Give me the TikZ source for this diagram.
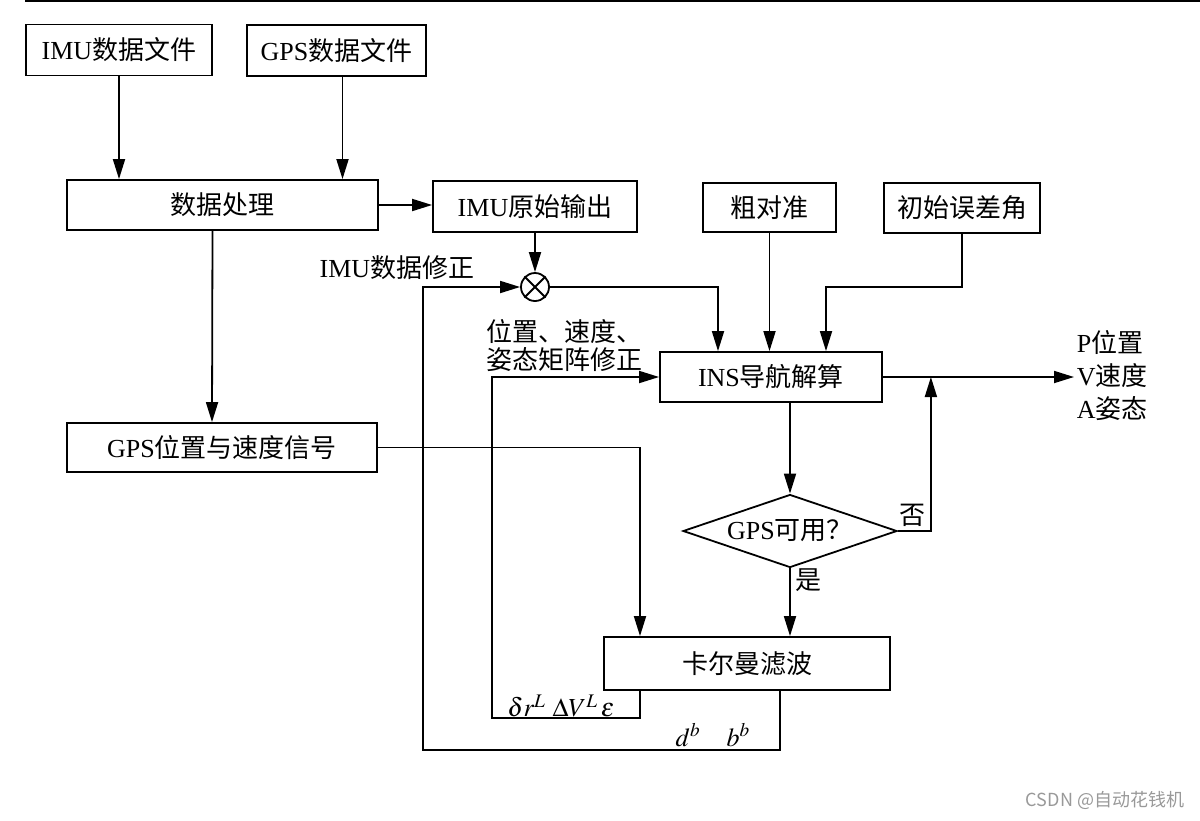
\documentclass[tikz,border=0pt]{standalone}
\usepackage{mathptmx}
\usepackage{fontspec}
\setmainfont{Liberation Serif}
\newfontfamily\cjk{Noto Sans CJK SC}
\newcommand\zh[1]{{\cjk #1}}
\usetikzlibrary{arrows.meta}
\usetikzlibrary{shapes.geometric}

\begin{document}
\begin{tikzpicture}[x=0.5pt,y=-0.5pt,line width=0.9pt,
	every node/.style={font=\fontsize{13pt}{15pt}\selectfont},
	box/.style={draw,inner sep=0pt},
	arr/.style={-{Triangle[length=10pt,width=6pt]}}]
\useasboundingbox (0,0) rectangle (1200,820);
% edge of the scanned page
\draw[line width=1pt] (25,1) -- (1200,1);

\node [box,minimum width=93pt,minimum height=25.5pt] (imufile) at (119,50) {IMU\zh{数据文件}};
\node [box,minimum width=89.5pt,minimum height=25.5pt] (gpsfile) at (336.5,50.5) {GPS\zh{数据文件}};
\node [box,minimum width=155.5pt,minimum height=25pt] (proc) at (222.5,205) {\zh{数据处理}};
\node [box,minimum width=102pt,minimum height=25.5pt] (raw) at (535,206.5) {IMU\zh{原始输出}};
\node [box,minimum width=66.5pt,minimum height=24.5pt] (coarse) at (769.5,207.5) {\zh{粗对准}};
\node [box,minimum width=78pt,minimum height=25pt] (initerr) at (962,208) {\zh{初始误差角}};
\node [box,minimum width=111pt,minimum height=25pt] (ins) at (771,377) {INS\zh{导航解算}};
\node [box,minimum width=155pt,minimum height=24.5pt] (gpssig) at (222,447.5) {GPS\zh{位置与速度信号}};
\node [box,minimum width=143pt,minimum height=26.5pt] (kf) at (747,663.5) {\zh{卡尔曼滤波}};
\node [draw,diamond,aspect=2.93,minimum width=107pt,minimum height=36.5pt,inner sep=0pt] (avail) at (790,531) {GPS\zh{可用？}};
\node [draw,circle,minimum size=14pt,inner sep=0pt] (mix) at (535,287) {};
\draw (mix.north east) -- (mix.south west) (mix.north west) -- (mix.south east);

% labels
\node (imufix) at (397,268) {IMU\zh{数据修正}};
\node [anchor=west,align=left,inner sep=0pt,font=\fontsize{13pt}{14pt}\selectfont] (poscorr) at (486,346) {\zh{位置、速度、}\\\zh{姿态矩阵修正}};
\node [anchor=west,align=left,inner sep=1pt,font=\fontsize{13pt}{16.5pt}\selectfont] (pva) at (1074,376) {P\zh{位置}\\V\zh{速度}\\A\zh{姿态}};
\node (kferr) at (561,706) {$\delta r^L\ \Delta V^L\,\varepsilon$};
\node (kfbias) at (713,735) {$d^b\quad b^b$};
\node (no) at (912,515) {\zh{否}};
\node (yes) at (808,580) {\zh{是}};
\node [text=gray!80,font=\cjk\fontsize{9pt}{11pt}\selectfont] (mark) at (1105,800) {CSDN @自动花钱机};

\coordinate (innerc) at (492,718);
\coordinate (outerc) at (423,750);

\draw[arr] (imufile.south) -- (imufile.south |- proc.north);
\draw[arr] ([xshift=3pt]gpsfile.south) -- ([xshift=3pt]gpsfile.south |- proc.north);
\draw[arr] (proc.east) -- (proc.east -| raw.west);
\draw[arr] (raw.south) -- (mix.north);
\draw[arr] (mix.east) -| ([xshift=-26.5pt]ins.north);
\draw[arr] (coarse.south) -- (coarse.south |- ins.north);
\draw[arr] (initerr.south) -- (initerr.south |- mix) -| ([xshift=27.5pt]ins.north);
\draw[arr] (ins.east) -- (ins.east -| pva.west);
\draw[arr] (avail.north |- ins.south) -- (avail.north);
\draw[arr] (avail.east) -| ([xshift=24pt]ins.east);
\draw[arr] (avail.south) -- (avail.south |- kf.north);
\draw[arr] ([xshift=-5pt]proc.south) -- ([xshift=-5pt]gpssig.north);
\draw[arr] (gpssig.east) -| ([xshift=-53.5pt]kf.north);
% feedback loops
\draw[arr] ([xshift=-53.5pt]kf.south) |- (innerc) |- (ins.west);
\draw[arr] ([xshift=16.5pt]kf.south) |- (outerc) |- (mix.west);
\end{tikzpicture}
\end{document}
